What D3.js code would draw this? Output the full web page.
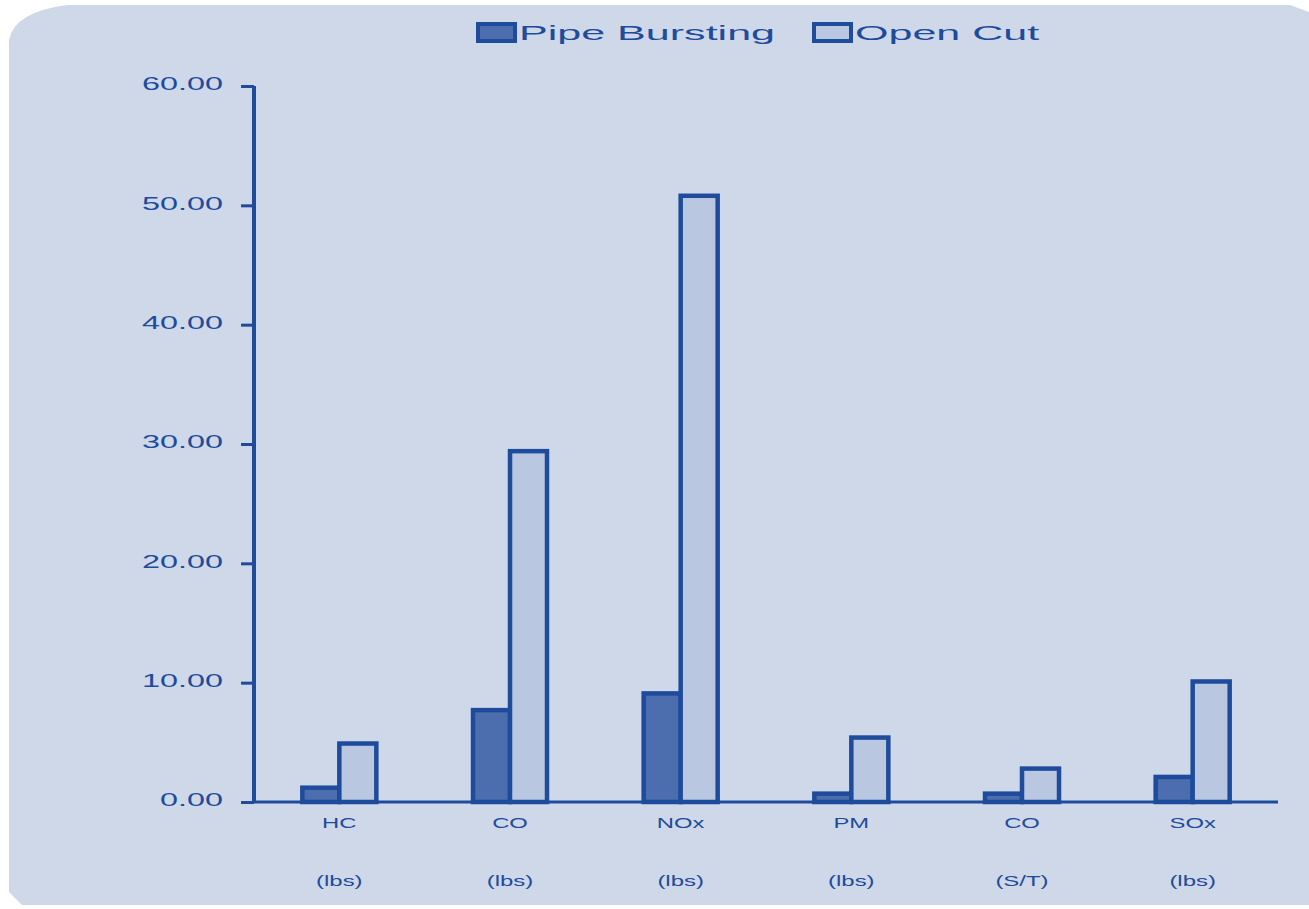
<!DOCTYPE html>
<html>
<head>
<meta charset="utf-8">
<script src="https://cdn.jsdelivr.net/npm/d3@7"></script>
<style>
html,body{margin:0;padding:0;background:#ffffff;}
svg{display:block;}
text{font-family:"Liberation Sans",Arial,sans-serif;}
</style>
</head>
<body>
<svg id="chart" width="1309" height="909"></svg>
<script>
// ---- data ----
const categories = ["HC", "CO", "NOx", "PM", "CO", "SOx"];
const units = ["(lbs)", "(lbs)", "(lbs)", "(lbs)", "(S/T)", "(lbs)"];
const seriesNames = ["Pipe Bursting", "Open Cut"];
const pipeBursting = [1.2, 7.7, 9.1, 0.7, 0.7, 2.1];
const openCut = [4.9, 29.4, 50.8, 5.4, 2.8, 10.1];
const yTicks = [0, 10, 20, 30, 40, 50, 60];

(function () {
// ---- styles ----
const C = {
  bg: "#CED8E9",
  ink: "#1E4B9B",
  pipe: "#4C6EAF",
  open: "#BAC7E0"
};

const svg = d3.select("#chart");

// background panel with chamfered corners
svg.append("path")
  .attr("d", "M9,40 Q14,12 67,5 L1290,5 L1309,12 L1309,905 L22,905 L9,892 Z")
  .attr("fill", C.bg);

const mLeft = 254, mRight = 1278, mTop = 86, mBottom = 802;

const x = d3.scaleBand().domain(d3.range(categories.length)).range([mLeft, mRight]);
const y = d3.scaleLinear().domain([0, 60]).range([mBottom, mTop]);
const barW = 37;

function stretch(sel, factor) {
  sel.each(function () {
    const w = this.getComputedTextLength();
    d3.select(this).attr("textLength", w * factor).attr("lengthAdjust", "spacingAndGlyphs");
  });
}

// bars
const seriesData = [pipeBursting, openCut];
const fills = [C.pipe, C.open];
seriesData.forEach((vals, si) => {
  svg.append("g").selectAll("rect")
    .data(vals)
    .join("rect")
    .attr("x", (d, i) => x(i) + x.bandwidth() / 2 - barW + si * barW)
    .attr("y", d => y(d))
    .attr("width", barW)
    .attr("height", d => y(0) - y(d))
    .attr("fill", fills[si])
    .attr("stroke", C.ink)
    .attr("stroke-width", 4.5);
});

// x axis baseline
svg.append("line")
  .attr("x1", mLeft).attr("x2", mRight)
  .attr("y1", y(0)).attr("y2", y(0))
  .attr("stroke", C.ink).attr("stroke-width", 3);

// y axis
const yAxis = d3.axisLeft(y).tickValues(yTicks).tickFormat(d3.format(".2f")).tickSize(13).tickPadding(18);
const gy = svg.append("g").attr("transform", `translate(${mLeft},0)`).call(yAxis);
gy.select(".domain").remove();
gy.selectAll(".tick line").attr("stroke", C.ink).attr("stroke-width", 3);
gy.selectAll(".tick text")
  .attr("fill", C.ink)
  .attr("font-size", 18.5)
  .attr("font-family", "Liberation Sans, Arial, sans-serif")
  .attr("dy", "0.2em")
  .call(stretch, 1.75);
svg.append("line")
  .attr("x1", mLeft).attr("x2", mLeft)
  .attr("y1", y(60)).attr("y2", y(0) + 1)
  .attr("stroke", C.ink).attr("stroke-width", 4);

// category labels
const cx = i => x(i) + x.bandwidth() / 2;
svg.append("g").selectAll("text")
  .data(categories)
  .join("text")
  .attr("x", (d, i) => cx(i))
  .attr("y", 828)
  .attr("text-anchor", "middle")
  .attr("font-size", 14)
  .attr("fill", C.ink)
  .text(d => d)
  .call(stretch, 1.7);
svg.append("g").selectAll("text")
  .data(units)
  .join("text")
  .attr("x", (d, i) => cx(i))
  .attr("y", 886)
  .attr("text-anchor", "middle")
  .attr("font-size", 14.5)
  .attr("fill", C.ink)
  .text(d => d)
  .call(stretch, 1.65);

// legend
const legendX = [478, 814];
const lg = svg.append("g");
seriesNames.forEach((name, i) => {
  lg.append("rect")
    .attr("x", legendX[i]).attr("y", 24)
    .attr("width", 37).attr("height", 17)
    .attr("fill", fills[i]).attr("stroke", C.ink).attr("stroke-width", 4);
  lg.append("text")
    .attr("x", legendX[i] + 41).attr("y", 40)
    .attr("font-size", 21)
    .attr("fill", C.ink)
    .text(name)
    .call(stretch, 2.05);
});
})();
</script>
</body>
</html>
